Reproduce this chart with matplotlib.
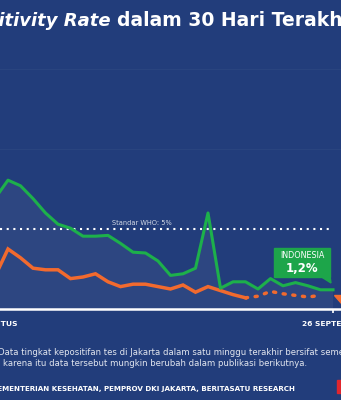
import matplotlib.pyplot as plt
from matplotlib.patches import Polygon, Rectangle

# positivity rate (%) per day, 28 Aug - 26 Sep
days = list(range(30))
indonesia = [7.4, 7.1, 6.95, 8.05, 7.7, 6.9, 6.0, 5.3, 5.05, 4.55,
             4.55, 4.6, 4.1, 3.55, 3.5, 3.0, 2.1, 2.2, 2.55, 6.0,
             1.3, 1.7, 1.7, 1.25, 1.9, 1.45, 1.65, 1.45, 1.2, 1.2]
jakarta = [2.3, 2.2, 2.1, 3.75, 3.2, 2.55, 2.45, 2.45, 1.9, 2.0,
           2.2, 1.7, 1.4, 1.55, 1.55, 1.4, 1.25, 1.5, 1.05, 1.4,
           1.15, 0.9, 0.7, 0.8, 1.1, 0.95, 0.85, 0.75, 0.85]
provisional_from = 22      # last week of Jakarta data is still provisional
who_standard = 5
date_labels = ['28 AGUSTUS', '26 SEPTEMBER']
label_days = [2, 29]

BG = '#223D7B'
GREEN = '#1DB04B'
ORANGE = '#F26A2E'
NOTE = '#E2E6EF'
W, H = 341, 400


def fx(px):
    return px / W


def fy(py):
    return 1 - py / H


fig = plt.figure(figsize=(W / 100, H / 100), dpi=100, facecolor=BG)
ax = fig.add_axes([0, fy(309), 1, fy(60) - fy(309)])
ax.set_facecolor(BG)
ax.set_xlim(2.36, 29.64)
ax.set_ylim(0, 15.56)
for s in ax.spines.values():
    s.set_visible(False)
ax.set_yticks([])

# faint grid
for g in (10, 15):
    ax.axhline(g, color='#29447F', lw=0.8, zorder=0)

ax.fill_between(days, indonesia, 0, color='white', alpha=0.05, lw=0, zorder=1)

ax.axhline(who_standard, xmax=fx(332), color='white', lw=1.5,
           linestyle=(0, (1, 2.2)), zorder=2)
ax.text(13.7, who_standard + 0.2, 'Standar WHO: 5%', color='#D3D9E6',
        fontsize=4.8, va='bottom', ha='center', zorder=3)

ax.plot(days[:provisional_from + 1], jakarta[:provisional_from + 1],
        color=ORANGE, lw=2.5, solid_joinstyle='miter', zorder=4)
ax.plot(days[provisional_from:len(jakarta)], jakarta[provisional_from:],
        color=ORANGE, lw=2.5, linestyle=(0, (0.6, 2.2)),
        dash_capstyle='round', zorder=4)
ax.plot(days, indonesia, color=GREEN, lw=2.2, zorder=5)

# x axis
ax.axhline(0, color='white', lw=1.8, clip_on=False, zorder=6)
ax.set_xticks([label_days[1]])
ax.set_xticklabels([])
ax.tick_params(axis='x', length=3, width=1.2, color='white', direction='out')
fig.text(fx(17), fy(326), date_labels[0], color='white', fontsize=5.4,
         fontweight='bold', ha='right', va='baseline')
fig.text(fx(302), fy(326), date_labels[1], color='white', fontsize=5.4,
         fontweight='bold', ha='left', va='baseline')

# Indonesia callout
fig.patches.append(Rectangle((fx(274), fy(277)), fx(56), fy(248) - fy(277),
                             transform=fig.transFigure, color='#1DA54A'))
fig.patches.append(Polygon([(fx(320), fy(276)), (fx(330), fy(276)),
                            (fx(331), fy(283))], closed=True,
                           transform=fig.transFigure, color='#1DA54A'))
fig.text(fx(302), fy(258), 'INDONESIA', color='white', fontsize=5.8,
         ha='center', va='baseline')
fig.text(fx(302), fy(272), f'{indonesia[-1]:.1f}%'.replace('.', ','),
         color='white', fontsize=8.5, fontweight='bold', ha='center',
         va='baseline')

# Jakarta callout pointer (box sits off to the right)
fig.patches.append(Polygon([(fx(334), fy(295)), (fx(341), fy(295)),
                            (fx(341), fy(303))], closed=True,
                           transform=fig.transFigure, color=ORANGE))

# title
fig.text(fx(111), fy(26), 'Positivity Rate', color='white', fontsize=13,
         fontweight='bold', fontstyle='italic', ha='right', va='baseline')
fig.text(fx(117), fy(26), 'dalam 30 Hari Terakhir', color='white',
         fontsize=13.5, fontweight='bold', ha='left', va='baseline')

# notes
fig.text(fx(-2), fy(355), 'Data tingkat kepositifan tes di Jakarta dalam satu '
         'minggu terakhir bersifat sementara.', color=NOTE, fontsize=6.1,
         ha='left', va='baseline')
fig.text(fx(-2), fy(355), '*', color=NOTE, fontsize=6.1,
         ha='right', va='baseline')
fig.text(fx(3), fy(366), 'karena itu data tersebut mungkin berubah dalam '
         'publikasi berikutnya.', color=NOTE, fontsize=6.1,
         ha='left', va='baseline')
fig.text(fx(3), fy(366), 'Oleh ', color=NOTE, fontsize=6.1,
         ha='right', va='baseline')
fig.text(fx(295), fy(391), 'SUMBER: KEMENTERIAN KESEHATAN, PEMPROV DKI JAKARTA, '
         'BERITASATU RESEARCH', color='white', fontsize=5.1, fontweight='bold',
         ha='right', va='baseline')
fig.patches.append(Rectangle((fx(337), fy(393)), fx(6), fy(380) - fy(393),
                             transform=fig.transFigure, color='#E0262E'))

fig.savefig('out.png', dpi=100, facecolor=BG)
